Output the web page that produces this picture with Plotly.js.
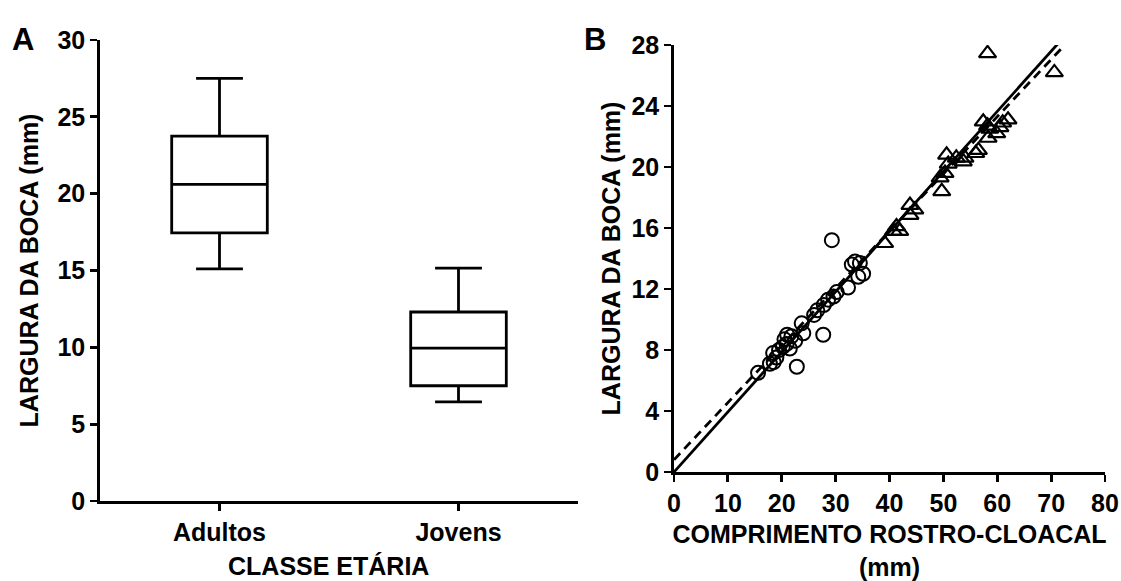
<!DOCTYPE html>
<html>
<head>
<meta charset="utf-8">
<script src="https://cdn.plot.ly/plotly-3.0.1.min.js"></script>
<style>html,body{margin:0;padding:0;background:#fff;}#chart{width:1121px;height:581px;}</style>
</head>
<body>
<div id="chart"></div>
<script>
// Panel A: box plot summary (mm)
const groups = ['Adultos', 'Jovens'];
const lowerFence = [15.1, 6.45];
const q1 = [17.45, 7.5];
const median = [20.6, 9.95];
const q3 = [23.75, 12.3];
const upperFence = [27.5, 15.15];

// Panel B: juveniles (circles)
const jovensCRC = [15.6, 17.8, 18.5, 18.4, 19.0, 19.5, 20.2, 20.9, 21.5, 20.5, 21.8, 22.5, 21.0, 22.8, 23.7, 24.0, 26.0, 26.6, 27.7, 27.8, 28.6, 29.3, 29.6, 30.2, 32.3, 33.0, 33.6, 34.5, 35.1, 34.2];
const jovensLB  = [6.5, 7.1, 7.2, 7.8, 7.5, 8.0, 8.2, 8.4, 8.1, 8.7, 8.9, 8.6, 9.0, 6.9, 9.75, 9.1, 10.3, 10.6, 9.0, 10.95, 11.3, 15.2, 11.5, 11.8, 12.1, 13.6, 13.8, 13.7, 13.0, 12.8];

// Panel B: adults (triangles)
const adultosCRC = [39.1, 40.7, 41.9, 41.3, 43.8, 44.7, 43.8, 49.7, 49.4, 50.3, 50.9, 50.6, 52.4, 53.7, 54.0, 56.0, 56.5, 58.3, 58.6, 59.9, 57.4, 58.2, 60.5, 61.0, 62.0, 58.2, 70.6];
const adultosLB  = [15.0, 15.8, 15.8, 16.1, 16.85, 17.2, 17.5, 18.4, 19.3, 19.6, 20.2, 20.8, 20.6, 20.35, 20.6, 20.9, 21.1, 21.9, 22.5, 22.2, 22.97, 22.7, 22.6, 22.9, 23.1, 27.45, 26.2];

// Regression lines (endpoints)
const solidX = [0, 71.3];
const solidY = [0, 28.1];
const dashX = [0, 72.0];
const dashY = [0.8, 27.8];

const FONT = 'Liberation Sans, Arial, sans-serif';
const tickFont = {family: FONT, size: 25, color: '#000', weight: 700};
const titleFont = {family: FONT, size: 25, color: '#000', weight: 700};

const traces = [
  {
    type: 'box', x: groups, q1: q1, median: median, q3: q3,
    lowerfence: lowerFence, upperfence: upperFence,
    boxpoints: false, width: 0.4, whiskerwidth: 0.49,
    fillcolor: 'rgba(255,255,255,0)', line: {color: '#000', width: 2.8},
    xaxis: 'x', yaxis: 'y', showlegend: false, hoverinfo: 'skip'
  },
  {
    type: 'scatter', mode: 'lines', x: dashX, y: dashY,
    line: {color: '#000', width: 2.8, dash: '9px,6px'},
    xaxis: 'x2', yaxis: 'y2', showlegend: false, hoverinfo: 'skip'
  },
  {
    type: 'scatter', mode: 'lines', x: solidX, y: solidY,
    line: {color: '#000', width: 2.8},
    xaxis: 'x2', yaxis: 'y2', showlegend: false, hoverinfo: 'skip'
  },
  {
    type: 'scatter', mode: 'markers', x: jovensCRC, y: jovensLB, name: 'Jovens',
    marker: {symbol: 'circle-open', size: 14, color: '#000', line: {width: 2, color: '#000'}},
    xaxis: 'x2', yaxis: 'y2', showlegend: false
  },
  {
    type: 'scatter', mode: 'markers', x: adultosCRC, y: adultosLB, name: 'Adultos',
    marker: {symbol: 'triangle-up-open', size: 15, color: '#000', line: {width: 2.2, color: '#000'}},
    xaxis: 'x2', yaxis: 'y2', showlegend: false
  }
];

const axisCommon = {
  showline: true, linecolor: '#000', linewidth: 2.8,
  ticks: 'outside', ticklen: 7, tickwidth: 2.8, tickcolor: '#000',
  showgrid: false, zeroline: false, tickfont: tickFont, fixedrange: true
};

const layout = {
  width: 1121, height: 581,
  margin: {l: 0, r: 0, t: 0, b: 0},
  paper_bgcolor: '#fff', plot_bgcolor: '#fff',
  showlegend: false,
  xaxis: Object.assign({}, axisCommon, {
    domain: [100/1121, 578/1121], anchor: 'y', type: 'category',
    range: [-0.5, 1.5]
  }),
  yaxis: Object.assign({}, axisCommon, {
    domain: [1 - 501/581, 1 - 40/581], anchor: 'x',
    range: [0, 30], tickvals: [0, 5, 10, 15, 20, 25, 30],
    title: {text: 'LARGURA DA BOCA (mm)', font: titleFont, standoff: 12}
  }),
  xaxis2: Object.assign({}, axisCommon, {
    domain: [674/1121, 1105/1121], anchor: 'y2',
    range: [0, 80], tickvals: [0, 10, 20, 30, 40, 50, 60, 70, 80],
    title: {text: 'COMPRIMENTO ROSTRO-CLOACAL<br>(mm)', font: titleFont, standoff: 14}
  }),
  yaxis2: Object.assign({}, axisCommon, {
    domain: [1 - 472/581, 1 - 45/581], anchor: 'x2',
    range: [0, 28], tickvals: [0, 4, 8, 12, 16, 20, 24, 28],
    title: {text: 'LARGURA DA BOCA (mm)', font: titleFont, standoff: 4}
  }),
  annotations: [
    {text: 'CLASSE ETÁRIA', xref: 'paper', yref: 'paper', x: 328/1121, y: 0,
     xanchor: 'center', yanchor: 'bottom', borderpad: 0, showarrow: false, font: titleFont},
    {text: 'A', xref: 'paper', yref: 'paper', x: 10/1121, y: 1 - 20/581, xanchor: 'left', yanchor: 'top',
     showarrow: false, font: {family: FONT, size: 31, color: '#000', weight: 700}},
    {text: 'B', xref: 'paper', yref: 'paper', x: 582/1121, y: 1 - 20/581, xanchor: 'left', yanchor: 'top',
     showarrow: false, font: {family: FONT, size: 31, color: '#000', weight: 700}}
  ]
};

Plotly.newPlot('chart', traces, layout, {displayModeBar: false, staticPlot: true});
</script>
</body>
</html>
